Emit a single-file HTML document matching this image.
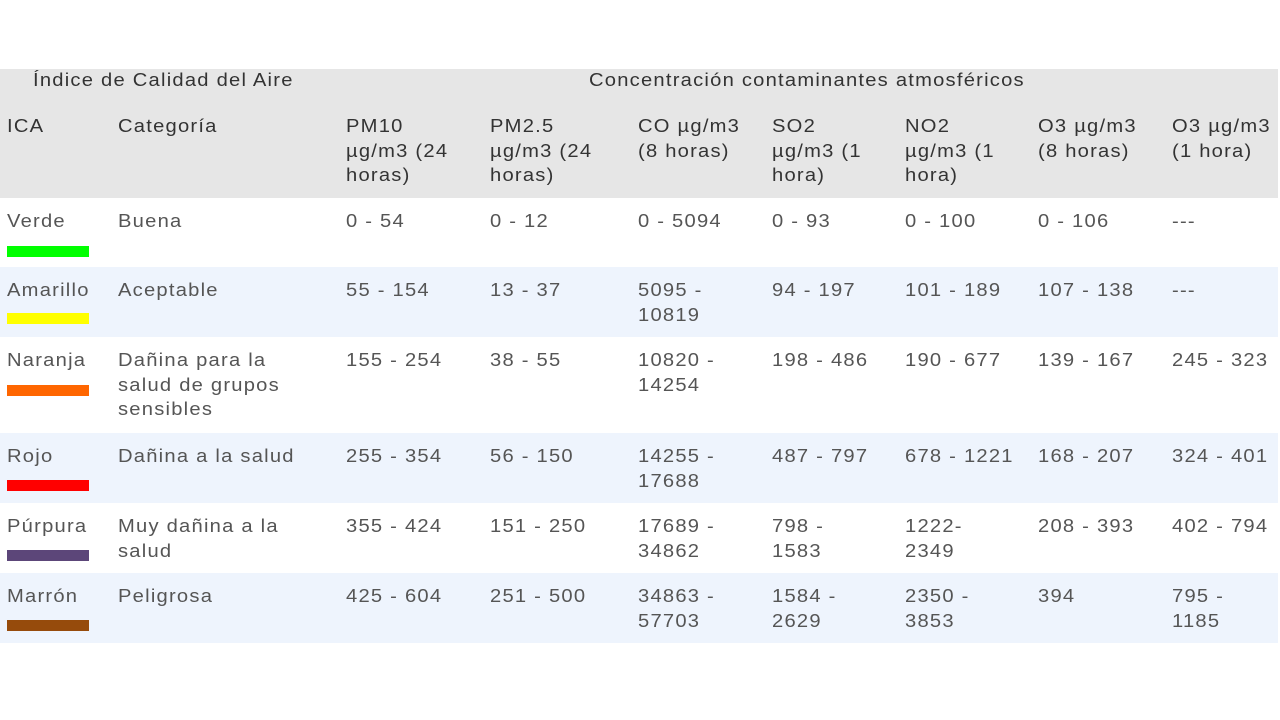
<!DOCTYPE html>
<html>
<head>
<meta charset="utf-8">
<style>
  html, body { margin:0; padding:0; width:1280px; height:720px; background:#fff; overflow:hidden; }
  body { position:relative; font-family:"Liberation Sans", Arial, sans-serif; font-size:18px; line-height:24.5px; letter-spacing:1.1px; color:#555; }
  .bg { position:absolute; left:0; width:1278px; }
  .t { position:absolute; white-space:nowrap; transform:scaleX(1.12); transform-origin:0 0; }
  .h { color:#333; }
  .bar { position:absolute; left:7px; width:82px; height:11px; }
</style>
</head>
<body>
  <!-- backgrounds -->
  <div class="bg" style="top:69px;height:129px;background:#e6e6e6;"></div>
  <div class="bg" style="top:267px;height:70px;background:#eef4fd;"></div>
  <div class="bg" style="top:433px;height:70px;background:#eef4fd;"></div>
  <div class="bg" style="top:573px;height:70px;background:#eef4fd;"></div>

  <!-- header row 1 -->
  <div class="t h" style="left:33px;top:68px;">Índice de Calidad del Aire</div>
  <div class="t h" style="left:589px;top:68px;">Concentración contaminantes atmosféricos</div>

  <!-- header row 2 -->
  <div class="t h" style="left:7px;top:114px;">ICA</div>
  <div class="t h" style="left:118px;top:114px;">Categoría</div>
  <div class="t h" style="left:346px;top:114px;">PM10<br>µg/m3 (24<br>horas)</div>
  <div class="t h" style="left:490px;top:114px;">PM2.5<br>µg/m3 (24<br>horas)</div>
  <div class="t h" style="left:638px;top:114px;">CO µg/m3<br>(8 horas)</div>
  <div class="t h" style="left:772px;top:114px;">SO2<br>µg/m3 (1<br>hora)</div>
  <div class="t h" style="left:905px;top:114px;">NO2<br>µg/m3 (1<br>hora)</div>
  <div class="t h" style="left:1038px;top:114px;">O3 µg/m3<br>(8 horas)</div>
  <div class="t h" style="left:1172px;top:114px;">O3 µg/m3<br>(1 hora)</div>

  <!-- Verde -->
  <div class="t" style="left:7px;top:209px;">Verde</div>
  <div class="bar" style="top:246px;background:#00ff00;"></div>
  <div class="t" style="left:118px;top:209px;">Buena</div>
  <div class="t" style="left:346px;top:209px;">0 - 54</div>
  <div class="t" style="left:490px;top:209px;">0 - 12</div>
  <div class="t" style="left:638px;top:209px;">0 - 5094</div>
  <div class="t" style="left:772px;top:209px;">0 - 93</div>
  <div class="t" style="left:905px;top:209px;">0 - 100</div>
  <div class="t" style="left:1038px;top:209px;">0 - 106</div>
  <div class="t" style="left:1172px;top:209px;">---</div>

  <!-- Amarillo -->
  <div class="t" style="left:7px;top:278px;">Amarillo</div>
  <div class="bar" style="top:313px;background:#ffff00;"></div>
  <div class="t" style="left:118px;top:278px;">Aceptable</div>
  <div class="t" style="left:346px;top:278px;">55 - 154</div>
  <div class="t" style="left:490px;top:278px;">13 - 37</div>
  <div class="t" style="left:638px;top:278px;">5095 -<br>10819</div>
  <div class="t" style="left:772px;top:278px;">94 - 197</div>
  <div class="t" style="left:905px;top:278px;">101 - 189</div>
  <div class="t" style="left:1038px;top:278px;">107 - 138</div>
  <div class="t" style="left:1172px;top:278px;">---</div>

  <!-- Naranja -->
  <div class="t" style="left:7px;top:348px;">Naranja</div>
  <div class="bar" style="top:385px;background:#ff6600;"></div>
  <div class="t" style="left:118px;top:348px;">Dañina para la<br>salud de grupos<br>sensibles</div>
  <div class="t" style="left:346px;top:348px;">155 - 254</div>
  <div class="t" style="left:490px;top:348px;">38 - 55</div>
  <div class="t" style="left:638px;top:348px;">10820 -<br>14254</div>
  <div class="t" style="left:772px;top:348px;">198 - 486</div>
  <div class="t" style="left:905px;top:348px;">190 - 677</div>
  <div class="t" style="left:1038px;top:348px;">139 - 167</div>
  <div class="t" style="left:1172px;top:348px;">245 - 323</div>

  <!-- Rojo -->
  <div class="t" style="left:7px;top:444px;">Rojo</div>
  <div class="bar" style="top:480px;background:#ff0000;"></div>
  <div class="t" style="left:118px;top:444px;">Dañina a la salud</div>
  <div class="t" style="left:346px;top:444px;">255 - 354</div>
  <div class="t" style="left:490px;top:444px;">56 - 150</div>
  <div class="t" style="left:638px;top:444px;">14255 -<br>17688</div>
  <div class="t" style="left:772px;top:444px;">487 - 797</div>
  <div class="t" style="left:905px;top:444px;">678 - 1221</div>
  <div class="t" style="left:1038px;top:444px;">168 - 207</div>
  <div class="t" style="left:1172px;top:444px;">324 - 401</div>

  <!-- Púrpura -->
  <div class="t" style="left:7px;top:514px;">Púrpura</div>
  <div class="bar" style="top:550px;background:#5c4679;"></div>
  <div class="t" style="left:118px;top:514px;">Muy dañina a la<br>salud</div>
  <div class="t" style="left:346px;top:514px;">355 - 424</div>
  <div class="t" style="left:490px;top:514px;">151 - 250</div>
  <div class="t" style="left:638px;top:514px;">17689 -<br>34862</div>
  <div class="t" style="left:772px;top:514px;">798 -<br>1583</div>
  <div class="t" style="left:905px;top:514px;">1222-<br>2349</div>
  <div class="t" style="left:1038px;top:514px;">208 - 393</div>
  <div class="t" style="left:1172px;top:514px;">402 - 794</div>

  <!-- Marrón -->
  <div class="t" style="left:7px;top:584px;">Marrón</div>
  <div class="bar" style="top:620px;background:#964b0c;"></div>
  <div class="t" style="left:118px;top:584px;">Peligrosa</div>
  <div class="t" style="left:346px;top:584px;">425 - 604</div>
  <div class="t" style="left:490px;top:584px;">251 - 500</div>
  <div class="t" style="left:638px;top:584px;">34863 -<br>57703</div>
  <div class="t" style="left:772px;top:584px;">1584 -<br>2629</div>
  <div class="t" style="left:905px;top:584px;">2350 -<br>3853</div>
  <div class="t" style="left:1038px;top:584px;">394</div>
  <div class="t" style="left:1172px;top:584px;">795 -<br>1185</div>
</body>
</html>
